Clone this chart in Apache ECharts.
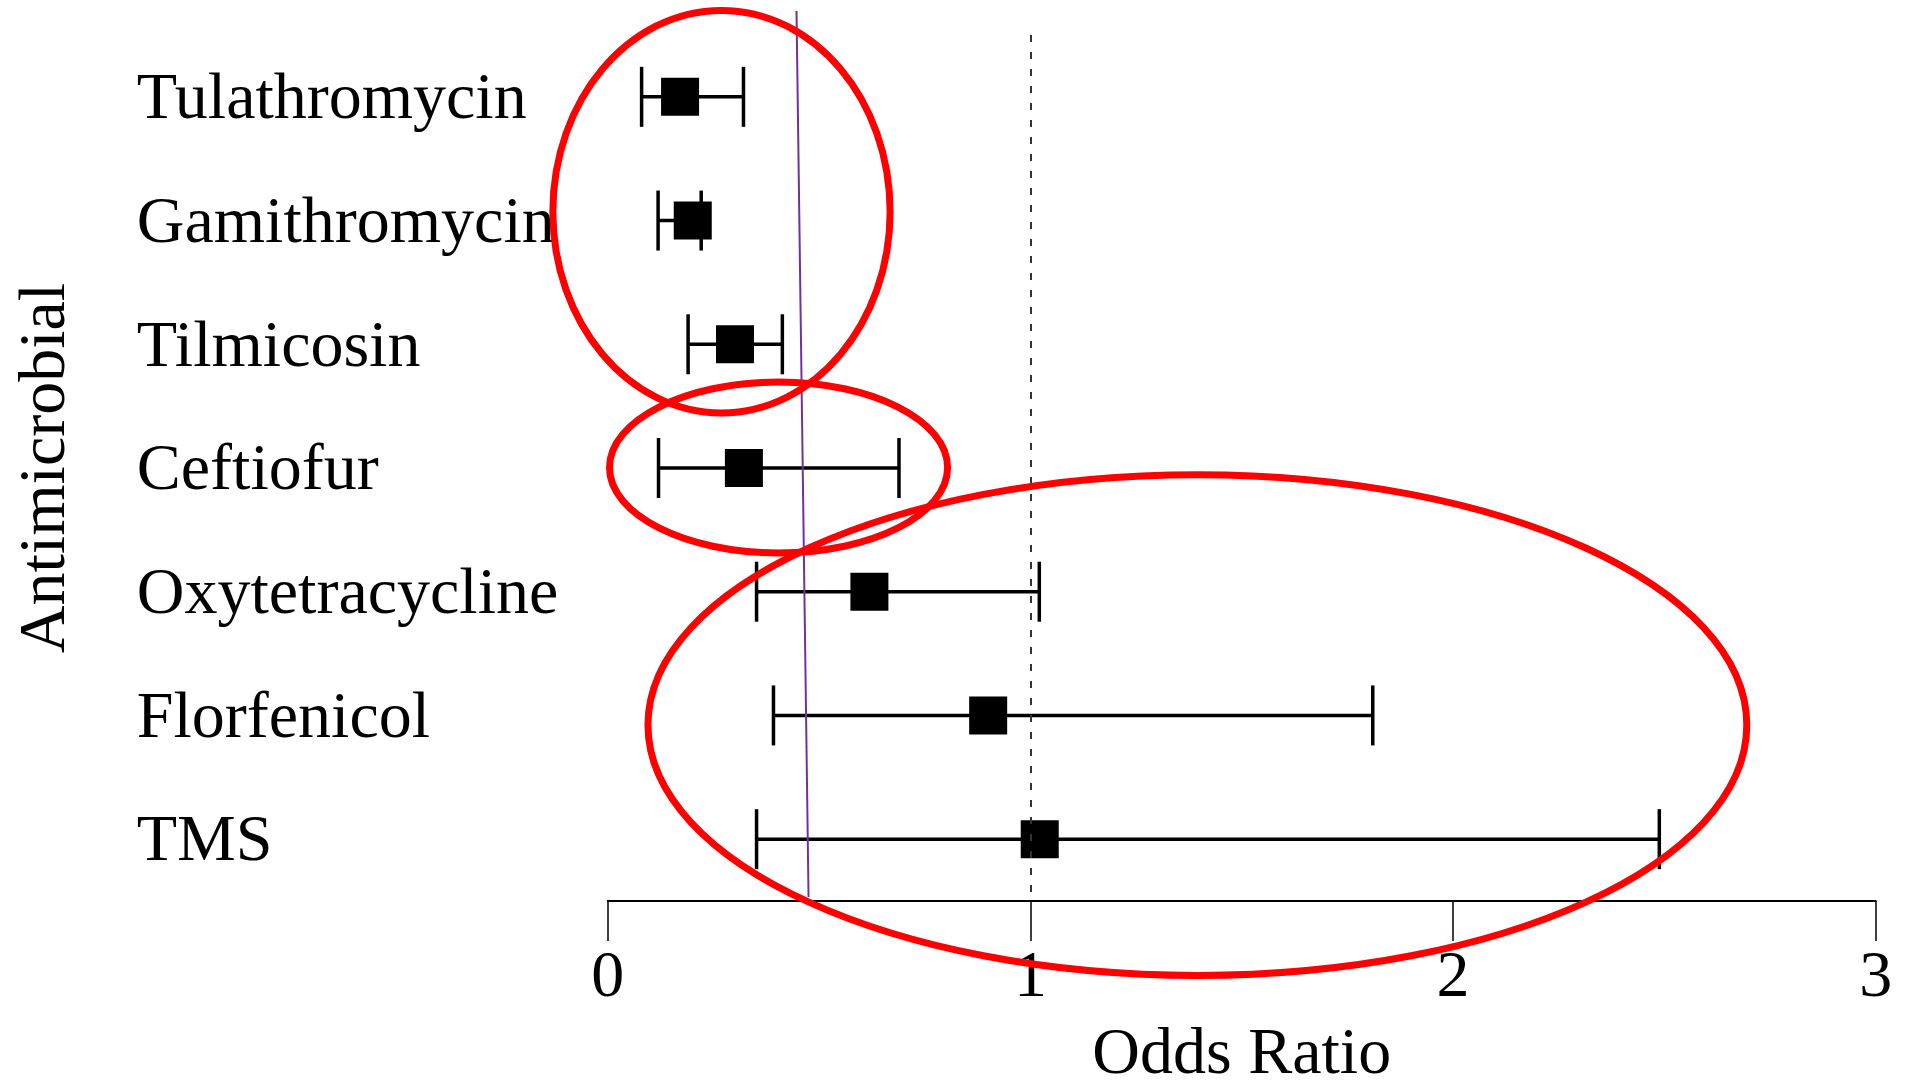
<!DOCTYPE html>
<html>
<head>
<meta charset="utf-8">
<title>Odds Ratio by Antimicrobial</title>
<script src="https://cdn.jsdelivr.net/npm/echarts@6/dist/echarts.min.js"></script>
<style>
    html, body { margin: 0; padding: 0; background: #fff; }
    #main { width: 1906px; height: 1081px; }
</style>
</head>
<body>
<div id="main"></div>
<script>
// categories, top to bottom
const antimicrobials = ['Tulathromycin', 'Gamithromycin', 'Tilmicosin', 'Ceftiofur', 'Oxytetracycline', 'Florfenicol', 'TMS']
const oddsRatio = [0.171, 0.201, 0.301, 0.322, 0.619, 0.900, 1.022]
const ciLower = [0.080, 0.119, 0.190, 0.120, 0.352, 0.392, 0.352]
const ciUpper = [0.321, 0.221, 0.413, 0.689, 1.021, 1.810, 2.488]
const xTicks = [0, 1, 2, 3]
const referenceOR = 1

// hand drawn annotations, in data units: [x centre, row position, x radius, row radius]
const redCircles = [
    [0.269, 1.428, 0.399, 1.627],
    [0.404, 3.496, 0.400, 0.691],
    [1.395, 5.578, 1.300, 2.024]
]
// purple pen line, [x, row position] at both ends
const penLine = [[0.4465, -0.194], [0.475, 6.968]]

const serif = 'Liberation Serif, Times New Roman, serif'

let chart = echarts.init(document.getElementById('main'), null, {renderer: 'canvas'})

let option = {
    animation: false,
    backgroundColor: '#fff',
    grid: {
        left: 607.8,
        right: 30.3,
        top: 35,
        bottom: 180,
        outerBoundsMode: 'none'
    },
    xAxis: {
        type: 'value',
        min: xTicks[0],
        max: xTicks[xTicks.length - 1],
        interval: 1,
        name: 'Odds Ratio',
        nameLocation: 'middle',
        nameGap: 122,
        nameTextStyle: {fontFamily: serif, fontSize: 66, color: '#000'},
        axisLine: {show: true, onZero: false, lineStyle: {color: '#000', width: 2}},
        axisTick: {show: true, length: 40, lineStyle: {color: '#000', width: 1.5}},
        axisLabel: {fontFamily: serif, fontSize: 66, color: '#000', margin: 45},
        splitLine: {show: false}
    },
    yAxis: [
        {
            type: 'category',
            data: antimicrobials,
            inverse: true,
            name: 'Antimicrobial',
            nameLocation: 'middle',
            nameGap: 528,
            nameTextStyle: {fontFamily: serif, fontSize: 66, color: '#000'},
            axisLine: {show: false},
            axisTick: {show: false},
            axisLabel: {
                interval: 0,
                align: 'left',
                verticalAlign: 'top',
                lineHeight: 8,
                margin: 471,
                fontFamily: serif,
                fontSize: 66,
                color: '#000'
            },
            splitLine: {show: false}
        },
        {
            // hidden row scale for the annotations
            type: 'value',
            min: 0,
            max: antimicrobials.length,
            inverse: true,
            show: false
        }
    ],
    series: [
        {
            type: 'custom',
            name: 'ci',
            z: 2,
            encode: {x: [0, 1], y: 2},
            data: antimicrobials.map((name, i) => [ciLower[i], ciUpper[i], i]),
            renderItem: function (params, api) {
                let lo = api.coord([api.value(0), api.value(2)])
                let hi = api.coord([api.value(1), api.value(2)])
                let h = 30
                let style = {stroke: '#000', lineWidth: 3.5, fill: null}
                return {
                    type: 'group',
                    children: [
                        {type: 'line', shape: {x1: lo[0], y1: lo[1], x2: hi[0], y2: hi[1]}, style: style},
                        {type: 'line', shape: {x1: lo[0], y1: lo[1] - h, x2: lo[0], y2: lo[1] + h}, style: style},
                        {type: 'line', shape: {x1: hi[0], y1: hi[1] - h, x2: hi[0], y2: hi[1] + h}, style: style}
                    ]
                }
            }
        },
        {
            type: 'scatter',
            name: 'or',
            z: 3,
            symbol: 'rect',
            symbolSize: 38,
            itemStyle: {color: '#000', opacity: 1},
            data: antimicrobials.map((name, i) => [oddsRatio[i], i]),
            markLine: {
                silent: true,
                symbol: ['none', 'none'],
                label: {show: false},
                lineStyle: {color: '#333', width: 2, type: [7, 10]},
                data: [{xAxis: referenceOR}]
            }
        },
        {
            type: 'custom',
            name: 'pen',
            yAxisIndex: 1,
            z: 4,
            silent: true,
            data: [penLine[0].concat(penLine[1])],
            renderItem: function (params, api) {
                let a = api.coord([api.value(0), api.value(1)])
                let b = api.coord([api.value(2), api.value(3)])
                return {
                    type: 'line',
                    shape: {x1: a[0], y1: a[1], x2: b[0], y2: b[1]},
                    style: {stroke: '#7030A0', lineWidth: 2}
                }
            }
        },
        {
            type: 'custom',
            name: 'circles',
            yAxisIndex: 1,
            z: 5,
            silent: true,
            data: redCircles,
            renderItem: function (params, api) {
                let c = api.coord([api.value(0), api.value(1)])
                let r = api.size([api.value(2), api.value(3)])
                return {
                    type: 'ellipse',
                    shape: {cx: c[0], cy: c[1], rx: r[0], ry: r[1]},
                    style: {stroke: '#ff0000', lineWidth: 7, fill: null}
                }
            }
        }
    ]
}

chart.setOption(option)
</script>
</body>
</html>
